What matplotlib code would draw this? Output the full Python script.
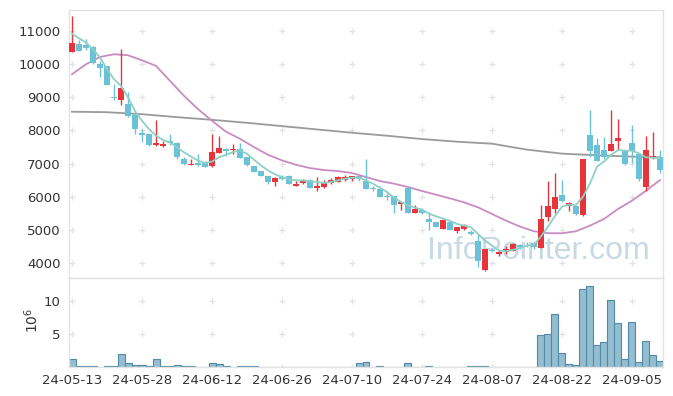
#! /usr/bin/env python3

import numpy as np
import pandas as pd
import matplotlib
matplotlib.use('Agg')
import matplotlib.pyplot as plt

## Trading days (KRX), holidays skipped
holidays = ['2024-05-15', '2024-06-06', '2024-08-15']
days = pd.bdate_range('2024-05-13', '2024-09-11')
days = [d for d in days if d.strftime('%Y-%m-%d') not in holidays]
labels = [d.strftime('%y-%m-%d') for d in days]

## Daily OHLC (won)
opens = [10380, 10620, 10570, 10520, 10000, 9930, 9010, 8930, 8790, 8470,
         7930, 7890, 7550, 7520, 7690, 7610, 7150, 6950, 7030, 7010,
         6920, 7330, 7450, 7400, 7440, 7190, 6930, 6770, 6610, 6440,
         6590, 6630, 6310, 6410, 6510, 6250, 6290, 6410, 6450, 6490,
         6530, 6610, 6470, 6260, 6220, 6010, 6010, 5770, 6270, 5510,
         5610, 5320, 5230, 5040, 5250, 4960, 5020, 4940, 4650, 3780,
         4400, 4260, 4330, 4370, 4530, 4570, 4610, 4460, 5400, 5620,
         6050, 5720, 5720, 5440, 7860, 7560, 7410, 7390, 7690, 7410,
         7610, 7290, 6300, 7160, 7210]
highs = [11450, 10730, 10750, 10550, 10100, 9930, 9400, 10450, 9170, 8470,
         8040, 7900, 8320, 7690, 7890, 7640, 7210, 7140, 7290, 7070,
         7890, 7840, 7460, 7600, 7630, 7200, 6940, 6780, 6620, 6580,
         6660, 6640, 6470, 6540, 6530, 6590, 6490, 6570, 6610, 6670,
         6630, 6670, 7150, 6310, 6330, 6110, 6020, 5840, 6290, 5750,
         5670, 5530, 5240, 5300, 5260, 5090, 5170, 5000, 4860, 4420,
         4440, 4380, 4520, 4600, 4570, 4630, 4620, 5760, 6460, 6730,
         6500, 5840, 5730, 7130, 8630, 7760, 7790, 8630, 8330, 7410,
         8160, 7290, 7830, 7940, 7410]
lows = [10380, 10400, 10430, 10000, 9600, 9370, 8910, 8760, 8410, 7890,
        7640, 7540, 7540, 7510, 7570, 7130, 6970, 6950, 6920, 6900,
        6910, 7310, 7240, 7300, 7170, 6940, 6740, 6620, 6390, 6320,
        6490, 6390, 6310, 6370, 6250, 6170, 6250, 6390, 6430, 6470,
        6470, 6470, 6220, 6170, 5980, 5890, 5520, 5590, 5510, 5500,
        5470, 5010, 5080, 5030, 4990, 4900, 5010, 4840, 3870, 3770,
        4340, 4200, 4280, 4350, 4430, 4470, 4430, 4450, 5270, 5520,
        5850, 5560, 5450, 5430, 7200, 7080, 7130, 7380, 7400, 6960,
        7030, 6470, 6180, 7150, 6730]
closes = [10630, 10400, 10500, 10020, 9870, 9380, 8990, 9280, 8440, 8030,
          7870, 7550, 7630, 7600, 7620, 7190, 7000, 6990, 6960, 6910,
          7350, 7480, 7380, 7450, 7180, 6950, 6740, 6620, 6440, 6570,
          6530, 6390, 6370, 6490, 6260, 6310, 6450, 6490, 6580, 6590,
          6610, 6530, 6230, 6240, 5990, 5990, 5740, 5830, 5510, 5620,
          5510, 5240, 5090, 5290, 5000, 5080, 5160, 4860, 4070, 4420,
          4370, 4320, 4420, 4560, 4470, 4560, 4470, 5330, 5720, 6000,
          5880, 5820, 5480, 7130, 7390, 7090, 7210, 7590, 7760, 6980,
          7390, 6530, 7410, 7230, 6810]

## Volume (x 10^6 shares)
volume = [1.17, 0.1, 0.1, 0.1, 0.0, 0.1, 0.1, 1.93, 0.56, 0.25,
          0.25, 0.1, 1.17, 0.1, 0.1, 0.25, 0.1, 0.1, 0.0, 0.0,
          0.66, 0.4, 0.1, 0.0, 0.1, 0.1, 0.1, 0.0, 0.0, 0.0,
          0.0, 0.0, 0.0, 0.0, 0.0, 0.0, 0.0, 0.0, 0.0, 0.0,
          0.0, 0.55, 0.7, 0.0, 0.1, 0.0, 0.0, 0.0, 0.55, 0.0,
          0.0, 0.2, 0.0, 0.0, 0.0, 0.0, 0.0, 0.1, 0.1, 0.1,
          0.0, 0.0, 0.0, 0.0, 0.0, 0.0, 0.0, 4.92, 5.08, 7.97,
          2.18, 0.5, 0.25, 11.83, 12.23, 3.3, 3.86, 10.1, 6.75, 1.27,
          6.9, 0.81, 4.0, 1.88, 0.86]

## Moving averages
ma5 = [10920, 10780, 10650, 10450, 10200, 9850, 9545, 9345, 8995, 8590,
       8290, 8040, 7840, 7710, 7640, 7490, 7340, 7210, 7090, 7020,
       7060, 7190, 7265, 7345, 7395, 7295, 7115, 6944, 6794, 6673,
       6593, 6523, 6493, 6490, 6473, 6443, 6413, 6443, 6493, 6543,
       6573, 6573, 6493, 6393, 6272, 6142, 5971, 5841, 5741, 5670,
       5610, 5490, 5410, 5339, 5270, 5178, 5128, 5078, 4877, 4676,
       4526, 4376, 4356, 4396, 4456, 4526, 4556, 4800, 5100, 5420,
       5700, 5760, 5750, 6000, 6400, 6906, 7060, 7258, 7409, 7389,
       7389, 7308, 7188, 7178, 7158]
ma20_x = [0, 2, 4, 6, 8, 10, 12, 14, 16, 18, 20, 22, 24, 26, 28, 30, 32, 34,
          36, 38, 40, 42, 44, 46, 48, 50, 52, 54, 56, 58, 60, 62, 64, 66,
          68, 70, 72, 74, 76, 78, 80, 82, 84]
ma20 = [9696, 9997, 10218, 10298, 10268, 10117, 9947, 9496, 9044, 8643,
        8292, 7961, 7747, 7496, 7265, 7095, 6964, 6864, 6804, 6774,
        6714, 6593, 6473, 6393, 6292, 6172, 6062, 5950, 5830, 5680,
        5479, 5278, 5098, 4957, 4900, 4897, 4957, 5128, 5329, 5629,
        5880, 6181, 6502]
ma120_x = [0, 5, 10, 15, 20, 25, 30, 35, 40, 45, 50, 55, 60, 65, 70, 75, 80, 84]
ma120 = [8565, 8550, 8490, 8400, 8320, 8230, 8130, 8030, 7930, 7840,
         7740, 7660, 7600, 7420, 7300, 7250, 7210, 7190]

UP = '#e8343b'
DOWN = '#6bc1d6'

plt.rcParams['font.family'] = 'DejaVu Sans'
fig = plt.figure(figsize=(6.73, 3.96), dpi=100)
W, H = 673.0, 396.0
ax = fig.add_axes([69 / W, (H - 278) / H, 594 / W, 268 / H])
axv = fig.add_axes([69 / W, (H - 367) / H, 594 / W, 89 / H], sharex=ax)

x = np.arange(len(opens))
o = np.array(opens)
c = np.array(closes)
up = c >= o
colors = np.where(up, UP, DOWN)

# watermark behind everything
ax.text(0.79, 0.1, 'InfoPointer.com', transform=ax.transAxes, ha='center', va='center',
        fontsize=23, family='Liberation Sans', color='#c6d9e5', zorder=0)

# grid crosses
gx = list(range(0, 81, 10))
for gy in range(4000, 12000, 1000):
    ax.scatter(gx, [gy] * len(gx), marker='+', s=25, color='#e2e2e2', linewidths=0.9, zorder=1)
for gy in [0, 5, 10]:
    axv.scatter(gx, [gy] * len(gx), marker='+', s=25, color='#e2e2e2', linewidths=0.9, zorder=1)

# moving averages
ax.plot(ma120_x, ma120, color='#9a9a9a', lw=1.3, zorder=2)
ax.plot(ma20_x, ma20, color='#c98bc4', lw=1.3, zorder=2)
ax.plot(x, ma5, color='#8ed0c6', lw=1.3, zorder=4)

# candles
ax.vlines(x, lows, highs, colors=colors, lw=1.0, zorder=3)
body = np.maximum(np.abs(c - o), 25)
ax.bar(x, body, bottom=np.minimum(o, c), width=0.72, color=colors, lw=0, zorder=3)

# volume
axv.bar(x, volume, width=1.0, color='#95bdd0', edgecolor='#4f8aa8', lw=0.8, zorder=2)

ax.set_xlim(-0.43, 84.43)
ax.set_ylim(3547, 11634)
axv.set_ylim(0, 13.5)

ax.set_yticks(range(4000, 12000, 1000))
axv.set_yticks([5, 10])
axv.set_xticks(gx)
axv.set_xticklabels([labels[i] for i in gx])
ax.tick_params(axis='x', labelbottom=False, length=0)
for a in (ax, axv):
    a.tick_params(length=0, labelsize=9.5, labelcolor='#333333', pad=6)
    for s in a.spines.values():
        s.set_color('#e3e3e3')
        s.set_linewidth(1.0)
axv.tick_params(axis='x', pad=5)
fig.text(32 / W, 1 - 320 / H, r'$10^6$', rotation=90, ha='center', va='center',
         fontsize=10, color='#333333')

plt.savefig('out.png', dpi=100)
